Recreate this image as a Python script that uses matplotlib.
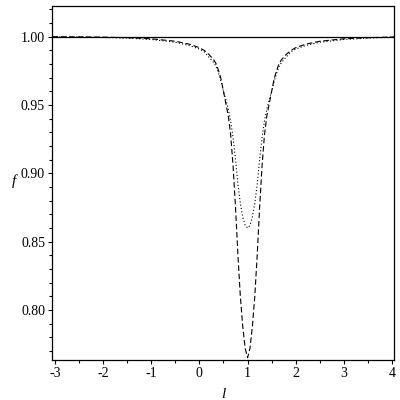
import numpy as np
import matplotlib.pyplot as plt
from matplotlib.ticker import MultipleLocator, FormatStrFormatter

# values
l_vals = np.array([-3.05, -2.5, -2.0, -1.5, -1.0, -0.5, -0.2, 0.0, 0.1, 0.2, 0.3, 0.35,
                   0.4, 0.45, 0.5, 0.55, 0.6, 0.65, 0.7, 0.75, 0.8, 0.85, 0.9, 0.95,
                   1.0, 1.05, 1.1, 1.15, 1.2, 1.25, 1.3, 1.35, 1.4, 1.45, 1.5, 1.55,
                   1.6, 1.65, 1.7, 1.8, 1.9, 2.0, 2.2, 2.5, 3.0, 3.5, 4.05])

f_dashed = np.array([1.0, 0.9999, 0.9997, 0.9993, 0.9985, 0.9967, 0.9945, 0.992, 0.990,
                     0.987, 0.983, 0.980, 0.975, 0.969, 0.960, 0.951, 0.942, 0.928,
                     0.905, 0.875, 0.840, 0.810, 0.788, 0.772, 0.765, 0.772, 0.788,
                     0.810, 0.840, 0.875, 0.905, 0.928, 0.942, 0.951, 0.960, 0.969,
                     0.975, 0.980, 0.983, 0.987, 0.990, 0.992, 0.9945, 0.9967,
                     0.9985, 0.9993, 0.9998])

f_dotted = np.array([0.9999, 0.9998, 0.9995, 0.999, 0.998, 0.996, 0.9935, 0.991, 0.989,
                     0.985, 0.981, 0.978, 0.973, 0.967, 0.960, 0.954, 0.947, 0.938,
                     0.926, 0.910, 0.892, 0.878, 0.868, 0.862, 0.860, 0.862, 0.868,
                     0.878, 0.892, 0.910, 0.926, 0.938, 0.947, 0.954, 0.960, 0.967,
                     0.973, 0.978, 0.981, 0.985, 0.989, 0.991, 0.9935, 0.996,
                     0.998, 0.999, 0.9998])

f_flat = [1.0, 1.0]
l_flat = [-3.06, 4.04]

plt.rcParams['font.family'] = 'Liberation Serif'
plt.rcParams['axes.unicode_minus'] = False

fig = plt.figure(figsize=(4, 4), dpi=100)
ax = fig.add_axes([0.13, 0.1, 0.855, 0.885])

ax.plot(l_flat, f_flat, color='black', lw=0.9)
ax.plot(l_vals, f_dashed, color='black', lw=0.8, dashes=(5, 2.5))
ax.plot(l_vals, f_dotted, color='black', lw=0.8, dashes=(1, 2))

ax.set_xlim(-3.06, 4.04)
ax.set_ylim(0.7634, 1.0225)

ax.xaxis.set_major_locator(MultipleLocator(1))
ax.xaxis.set_minor_locator(MultipleLocator(0.5))
ax.yaxis.set_major_locator(MultipleLocator(0.05))
ax.yaxis.set_minor_locator(MultipleLocator(0.01))
ax.yaxis.set_major_formatter(FormatStrFormatter('%.2f'))

ax.tick_params(which='major', direction='out', length=3, width=0.8, labelsize=10, pad=2)
ax.tick_params(which='minor', direction='out', length=2.5, width=0.8)

for s in ax.spines.values():
    s.set_linewidth(0.9)

ax.set_xlabel('l', fontstyle='italic', fontsize=11, labelpad=6)
ax.set_ylabel('f', fontstyle='italic', fontsize=11, rotation=0, labelpad=8)
ax.yaxis.set_label_coords(-0.11, 0.485)

fig.savefig('out.png', dpi=100)
